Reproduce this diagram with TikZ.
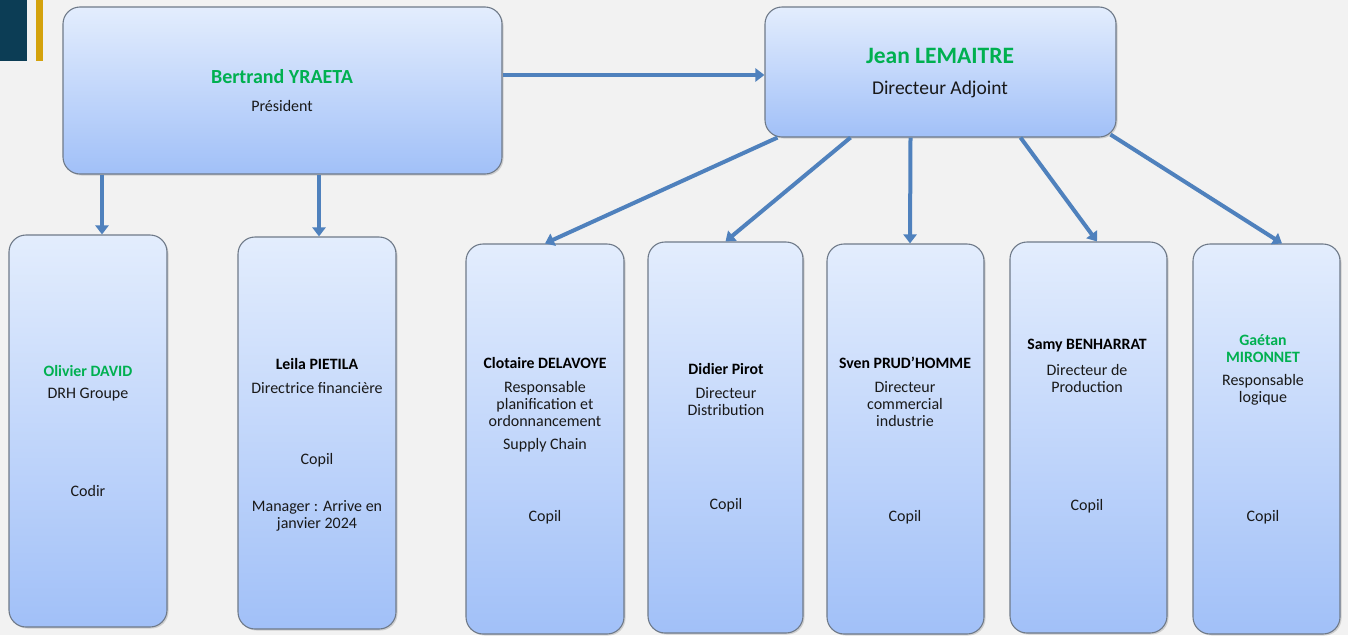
\documentclass[tikz,border=0pt]{standalone}
\usepackage{fontspec}
\setmainfont{Carlito}
\usetikzlibrary{arrows.meta,shadows}
\definecolor{fondgris}{HTML}{F2F2F2}
\definecolor{bleuhaut}{HTML}{E3EDFD}
\definecolor{bleubas}{HTML}{A1C0F8}
\definecolor{bord}{HTML}{6F7A89}
\definecolor{fleche}{HTML}{4F81BD}
\definecolor{vertnom}{HTML}{00B050}
\definecolor{marine}{HTML}{0C3D55}
\definecolor{ocre}{HTML}{D4A20C}
\tikzset{
  boite/.style={draw=bord, line width=1.1pt, rounded corners=17pt, inner sep=0pt,
    top color=bleuhaut, bottom color=bleubas,
    drop shadow={opacity=0.3, shadow xshift=1.5pt, shadow yshift=-1.5pt}},
  lien/.style={draw=fleche, line width=4pt, -{Triangle[length=9pt,width=13pt]}},
  nom/.style={font=\fontsize{15.8}{17}\selectfont\bfseries, align=center},
  texte/.style={font=\fontsize{16}{17}\selectfont, align=center, text=black!90},
  vert/.style={text=vertnom}
}
\begin{document}
\begin{tikzpicture}[x=1pt,y=-1pt]
\fill[fondgris] (0,0) rectangle (1348,635);
\useasboundingbox (0,0) rectangle (1348,635);
\fill[marine] (0,0) rectangle (27,61);
\fill[ocre] (36,0) rectangle (43,61);

% cadres
\node[boite, minimum width=439pt, minimum height=167pt] (pres) at (282.5,90.5) {};
\node[boite, minimum width=351pt, minimum height=130pt] (jean) at (940.5,72) {};
\node[boite, minimum width=158pt, minimum height=392pt] (oliv) at (88,431) {};
\node[boite, minimum width=158pt, minimum height=392pt] (leila) at (317,433) {};
\node[boite, minimum width=158pt, minimum height=390pt] (clot) at (545,439) {};
\node[boite, minimum width=155pt, minimum height=391pt] (didi) at (725.5,437.5) {};
\node[boite, minimum width=157pt, minimum height=390pt] (sven) at (905.5,439) {};
\node[boite, minimum width=157pt, minimum height=391pt] (samy) at (1088.5,437.5) {};
\node[boite, minimum width=147pt, minimum height=390pt] (gaet) at (1266.5,439) {};

% liens
\draw[lien] ([yshift=-3pt]jean.west -| pres.east) -- ([yshift=-3pt]jean.west);
\draw[lien] ([xshift=14pt]oliv.north |- pres.south) -- ([xshift=14pt]oliv.north);
\draw[lien] ([xshift=2pt]leila.north |- pres.south) -- ([xshift=2pt]leila.north);
\draw[lien] ([xshift=-163pt]jean.south) -- (clot.north);
\draw[lien] ([xshift=-90pt]jean.south) -- (didi.north);
\draw[lien] ([xshift=-30pt]jean.south) -- ([xshift=4.5pt]sven.north);
\draw[lien] ([xshift=80pt]jean.south) -- ([xshift=8.5pt]samy.north);
\draw[lien] ([xshift=170pt,yshift=3pt]jean.south) -- ([xshift=15.5pt]gaet.north);

% textes
\node[nom, vert, font=\fontsize{20}{22}\selectfont\bfseries] (pres-n) at (282,77) {Bertrand YRAETA};
\node[texte] (pres-t) at (282,106) {Président};
\node[nom, vert, font=\fontsize{23.5}{26}\selectfont\bfseries] (jean-n) at (940,56) {Jean LEMAITRE};
\node[texte, font=\fontsize{19.5}{22}\selectfont] (jean-t) at (940,89) {Directeur Adjoint};

\node[nom, vert] (oliv-n) at (88,371) {Olivier DAVID};
\node[texte] (oliv-t) at (88,395) {DRH Groupe};
\node[texte] (oliv-c) at (88,491) {Codir};

\node[nom] (leila-n) at (317,364) {Leila PIETILA};
\node[texte] (leila-t) at (317,388) {Directrice financière};
\node[texte] (leila-c) at (317,460) {Copil};
\node[texte] (leila-m) at (317,516) {Manager : Arrive en\\janvier 2024};

\node[nom] (clot-n) at (545,363) {Clotaire DELAVOYE};
\node[texte] (clot-t) at (545,404) {Responsable\\planification et\\ordonnancement};
\node[texte] (clot-s) at (545,445) {Supply Chain};
\node[texte] (clot-c) at (545,517) {Copil};

\node[nom] (didi-n) at (726,369) {Didier Pirot};
\node[texte] (didi-t) at (726,401.5) {Directeur\\Distribution};
\node[texte] (didi-c) at (726,505) {Copil};

\node[nom] (sven-n) at (905,363) {Sven PRUD’HOMME};
\node[texte] (sven-t) at (905,404.5) {Directeur\\commercial\\industrie};
\node[texte] (sven-c) at (905,517) {Copil};

\node[nom] (samy-n) at (1087,346) {Samy BENHARRAT};
\node[texte] (samy-t) at (1087,378) {Directeur de\\Production};
\node[texte] (samy-c) at (1087,506) {Copil};

\node[nom, vert] (gaet-n) at (1263,348.5) {Gaétan\\MIRONNET};
\node[texte] (gaet-t) at (1263,389.5) {Responsable\\logique};
\node[texte] (gaet-c) at (1263,517) {Copil};
\end{tikzpicture}
\end{document}
